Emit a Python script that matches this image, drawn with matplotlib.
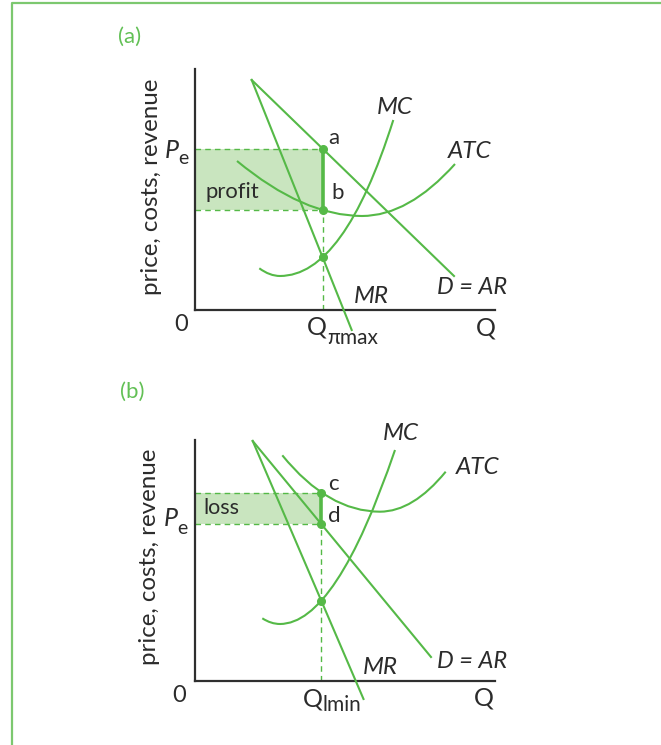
import matplotlib
matplotlib.use("Agg")
import matplotlib.pyplot as plt
from matplotlib.path import Path
from matplotlib.patches import PathPatch
from matplotlib.lines import Line2D

W, H = 661, 745

# ---------------- data (chart units: Q 0..30, P 0..24.1) ----------------
q_lim = (0, 30)
p_lim = (0, 24.1)

# Panel (a): profit
a_demand_q = [5.67, 25.9]
a_demand_p = [23.0, 3.4]
a_mr_q = [5.67, 15.67]
a_mr_p = [23.0, -2.0]
a_mc_ctrl_q = [6.43, 7.47, 8.5, 14.9, 19.83]
a_mc_ctrl_p = [4.17, 3.4, 3.4, 3.4, 19.0]
a_atc_ctrl_q = [4.2, 10.84, 16.7, 21.35, 26.0]
a_atc_ctrl_p = [14.9, 9.4, 9.4, 9.4, 14.6]
a_q_star = 12.75
a_pe = 16.1
a_atc_at_q = 10.0
a_mc_at_q = 5.27

# Panel (b): loss
b_demand_q = [5.77, 23.6]
b_demand_p = [24.0, 2.4]
b_mr_q = [5.77, 16.85]
b_mr_p = [24.0, -1.8]
b_mc_ctrl_q = [6.73, 7.6, 8.5, 14.08, 20.0]
b_mc_ctrl_p = [6.27, 5.7, 5.7, 5.7, 23.1]
b_atc_ctrl_q = [8.73, 13.31, 18.5, 21.8, 25.07]
b_atc_ctrl_p = [22.57, 16.93, 16.93, 16.93, 20.93]
b_q_star = 12.63
b_pe = 15.7
b_atc_at_q = 18.85
b_mc_at_q = 8.03

# ---------------- style ----------------
GREEN = "#55b947"
FILL = "#c9e5bf"
AXIS = "#2f2f2f"
TXT = "#2b2b2b"
FONT = ["Lato", "DejaVu Sans"]
plt.rcParams["font.family"] = FONT

fig = plt.figure(figsize=(W / 100, H / 100), dpi=100)
fig.patch.set_facecolor("white")

# frame lines (top and left)
fig.add_artist(Line2D([11.5 / W, 11.5 / W, 1.0], [0.0, 1 - 3.3 / H, 1 - 3.3 / H],
                      transform=fig.transFigure, color="#7cc86f", lw=1.6))


def make_axes(top_px):
    left, right = 195, 495
    ax = fig.add_axes([left / W, 1 - (top_px + 241) / H, (right - left) / W, 241 / H])
    ax.set_xlim(q_lim)
    ax.set_ylim(p_lim)
    for s in ["top", "right"]:
        ax.spines[s].set_visible(False)
    for s in ["left", "bottom"]:
        ax.spines[s].set_color(AXIS)
        ax.spines[s].set_linewidth(1.6)
    ax.set_xticks([])
    ax.set_yticks([])
    ax.patch.set_alpha(0)
    return ax


def curve(ax, cq, cp):
    verts = list(zip(cq, cp))
    codes = [Path.MOVETO, Path.CURVE3, Path.CURVE3, Path.CURVE3, Path.CURVE3]
    ax.add_patch(PathPatch(Path(verts, codes), fill=False, ec=GREEN, lw=1.5,
                           clip_on=False, zorder=3))


def panel(ax, dq, dp, mq, mp, mcq, mcp, atq, atp, q, pe, atc, mc, profit):
    lo, hi = (atc, pe) if profit else (pe, atc)
    ax.fill_between([0, q], [lo, lo], [hi, hi], color=FILL, lw=0, zorder=1)
    dash = (0, (4, 3))
    ax.plot([0, q], [hi, hi], ls=dash, color=GREEN, lw=1, zorder=2)
    ax.plot([0, q], [lo, lo], ls=dash, color=GREEN, lw=1, zorder=2)
    ax.plot([q, q], [0, lo], ls=dash, color=GREEN, lw=1, zorder=2)
    ax.plot([q, q], [lo, hi], color=GREEN, lw=2.6, zorder=4)
    ax.plot(dq, dp, color=GREEN, lw=1.5, clip_on=False, zorder=3)
    ax.plot(mq, mp, color=GREEN, lw=1.5, clip_on=False, zorder=3)
    curve(ax, mcq, mcp)
    curve(ax, atq, atp)
    ax.plot([q, q, q], [pe, atc, mc], "o", ms=5.5, color=GREEN, clip_on=False, zorder=5)


def t(x, y, s, size=15, color=TXT, style="normal", weight="normal", ha="center", **kw):
    fig.text(x / W, 1 - y / H, s, ha=ha, va="center", fontsize=size,
             color=color, style=style, weight=weight, **kw)


LAB = 17.5
# ---------------- panel (a) ----------------
axa = make_axes(69)
panel(axa, a_demand_q, a_demand_p, a_mr_q, a_mr_p, a_mc_ctrl_q, a_mc_ctrl_p,
      a_atc_ctrl_q, a_atc_ctrl_p, a_q_star, a_pe, a_atc_at_q, a_mc_at_q, True)

t(130, 37, "(a)", size=16, color="#62c055")
t(152, 187, "price, costs, revenue", size=17.4, rotation=90)
t(172, 150, "P", size=18, style="italic")
t(183, 158, "e", size=14)
t(232, 192, "profit", size=15.8)
t(334, 138, "a", size=16)
t(337.5, 193, "b", size=16)
t(395, 107, "MC", size=LAB, style="italic")
t(470, 151, "ATC", size=LAB, style="italic")
t(371, 297, "MR", size=LAB, style="italic")
t(472, 288, "D = AR", size=17, style="italic")
t(181, 325, "0", size=17)
t(486, 328, "Q", size=18)
t(317, 327, "Q", size=18)
t(327, 338, "πmax", size=15, ha="left")

# ---------------- panel (b) ----------------
axb = make_axes(440)
panel(axb, b_demand_q, b_demand_p, b_mr_q, b_mr_p, b_mc_ctrl_q, b_mc_ctrl_p,
      b_atc_ctrl_q, b_atc_ctrl_p, b_q_star, b_pe, b_atc_at_q, b_mc_at_q, False)

t(132, 392, "(b)", size=16, color="#62c055")
t(150, 557, "price, costs, revenue", size=17.4, rotation=90)
t(171, 519, "P", size=18, style="italic")
t(182, 528, "e", size=14)
t(221, 508, "loss", size=15.5)
t(333, 484, "c", size=16)
t(334, 516, "d", size=16)
t(401, 433, "MC", size=LAB, style="italic")
t(478, 468, "ATC", size=LAB, style="italic")
t(380, 668, "MR", size=LAB, style="italic")
t(472, 662, "D = AR", size=17, style="italic")
t(179, 695, "0", size=17)
t(484, 698, "Q", size=18)
t(313, 699, "Q", size=18)
t(323, 705, "lmin", size=15, ha="left")

fig.savefig("out.png", dpi=100, facecolor="white")
